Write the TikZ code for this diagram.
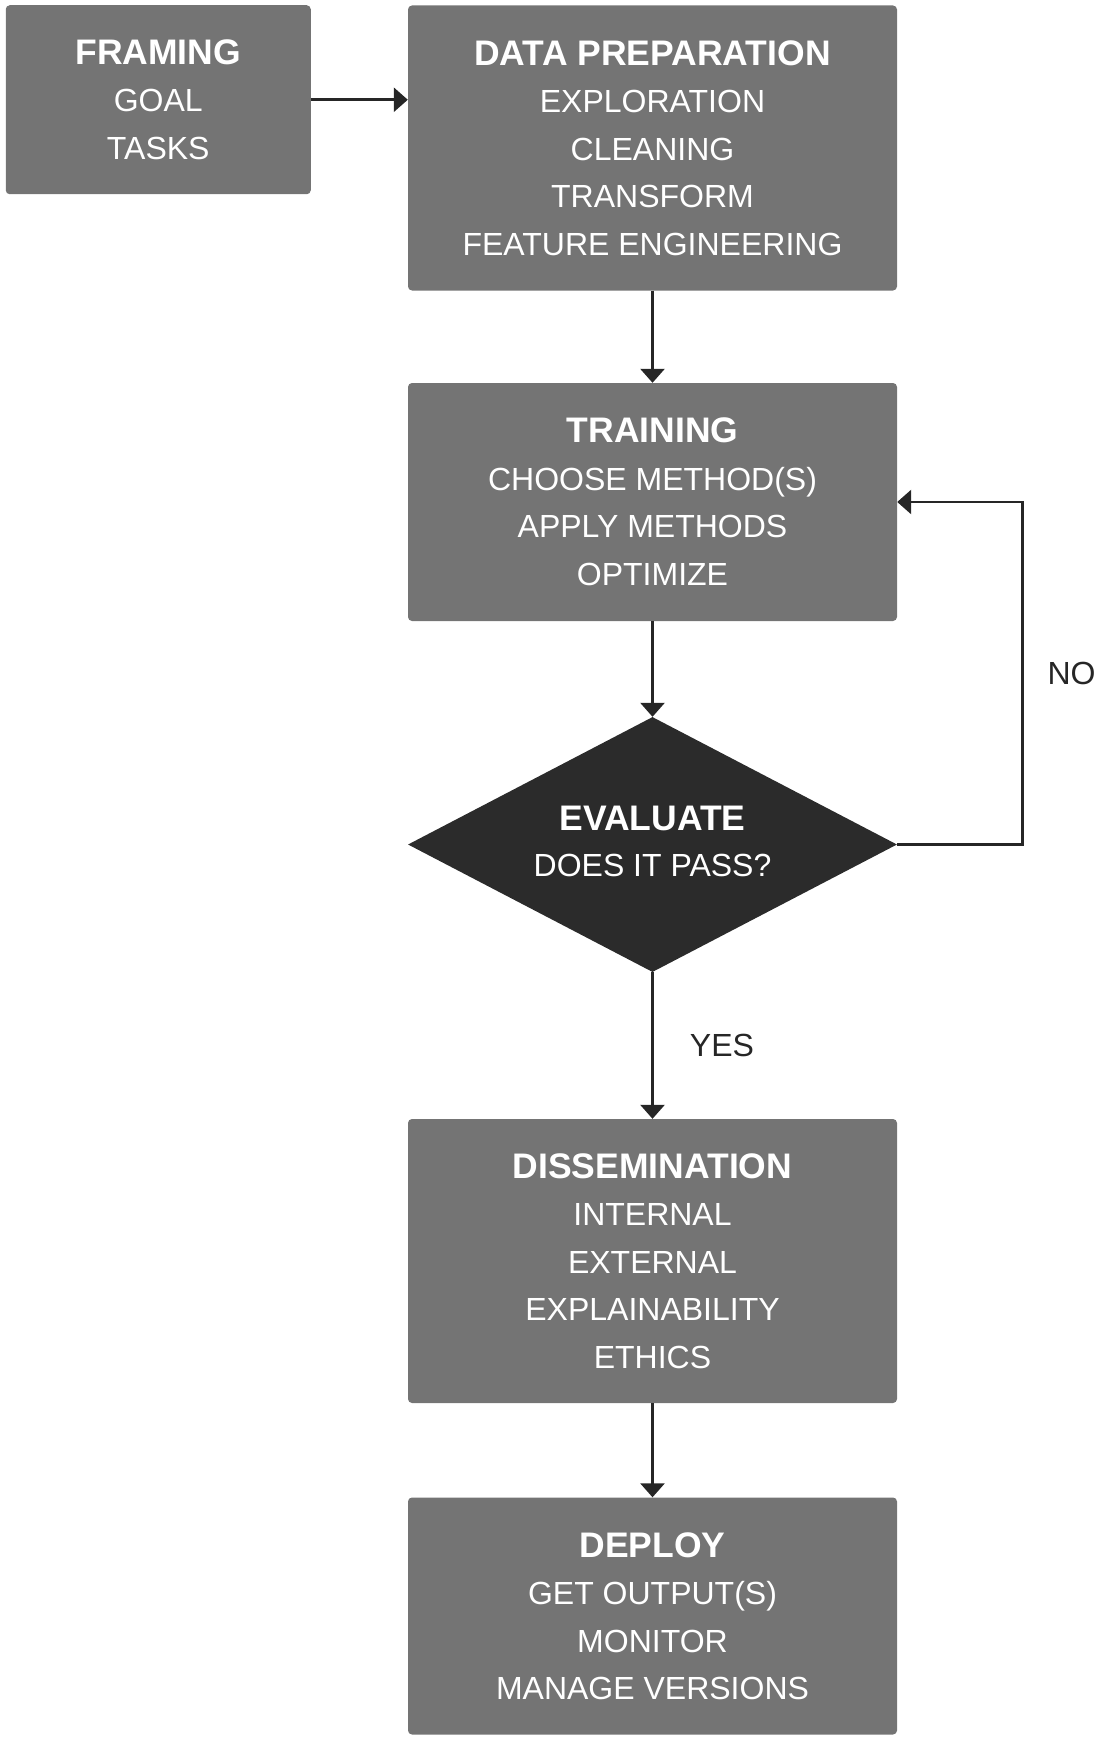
\documentclass[tikz,border=0pt]{standalone}
\usepackage{fontspec}
\setmainfont{Liberation Sans}
\usetikzlibrary{shapes.geometric,arrows.meta}
\definecolor{boxgray}{HTML}{747474}
\definecolor{darkfill}{HTML}{2B2B2B}
\definecolor{linecol}{HTML}{262626}
\begin{document}
\begin{tikzpicture}[x=1pt,y=-1pt,
  stepbox/.style={rectangle, rounded corners=4pt, fill=boxgray, text=white,
    minimum width=489pt, inner sep=0pt, align=center,
    font=\fontsize{32}{47.5}\selectfont},
  decbox/.style={diamond, fill=darkfill, minimum width=489pt, minimum height=255pt,
    inner sep=0pt, aspect=1.92},
  dectext/.style={text=white, align=center, inner sep=0pt,
    font=\fontsize{32}{46}\selectfont},
  lbl/.style={text=linecol, inner sep=0pt, font=\fontsize{32}{36}\selectfont},
  arr/.style={draw=linecol, line width=2.8pt, -{Triangle[length=14pt,width=24pt]}}]
\useasboundingbox (0,0) rectangle (1100,1739);
\newcommand{\ttlfont}{\fontsize{35.5}{47.5}\selectfont\bfseries}

\node[stepbox, minimum width=305pt, minimum height=189pt] (framing) at (158.25,99.75)
  {{\ttlfont FRAMING}\\GOAL\\TASKS};
\node[stepbox, minimum height=285pt] (dataprep) at (652.5,148)
  {{\ttlfont DATA PREPARATION}\\EXPLORATION\\CLEANING\\TRANSFORM\\FEATURE ENGINEERING};
\node[stepbox, minimum height=238pt] (training) at (652.5,502)
  {{\ttlfont TRAINING}\\CHOOSE METHOD(S)\\APPLY METHODS\\OPTIMIZE};
\node[decbox] (eval) at (652.5,844.5) {};
\node[dectext] (evaltext) at (652.5,841) {{\ttlfont EVALUATE}\\DOES IT PASS?};
\node[stepbox, minimum height=284pt] (dissem) at (652.5,1261)
  {{\ttlfont DISSEMINATION}\\INTERNAL\\EXTERNAL\\EXPLAINABILITY\\ETHICS};
\node[stepbox, minimum height=237pt] (deploy) at (652.5,1616)
  {{\ttlfont DEPLOY}\\GET OUTPUT(S)\\MONITOR\\MANAGE VERSIONS};

\draw[arr] (framing.east) -- (framing.east -| dataprep.west);
\draw[arr] (dataprep.south) -- (training.north);
\draw[arr] (training.south) -- (eval.north);
\draw[arr] (eval.east) -- ++(125,0) |- node[pos=0.25, right=24pt, lbl] {NO} (training.east);
\draw[arr] (eval.south) -- node[midway, right=36pt, lbl] {YES} (dissem.north);
\draw[arr] (dissem.south) -- (deploy.north);
\end{tikzpicture}
\end{document}
